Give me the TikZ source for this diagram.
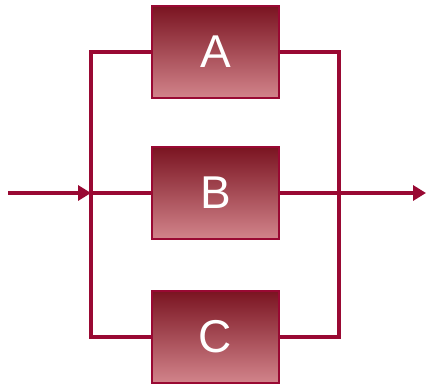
\documentclass[tikz,border=0pt]{standalone}
\usepackage{fontspec}
\setmainfont{Liberation Sans}
\usetikzlibrary{arrows.meta}
\definecolor{wire}{HTML}{990933}
\definecolor{gtop}{HTML}{7A1421}
\definecolor{gbot}{HTML}{D2848B}
\begin{document}
\begin{tikzpicture}[x=1pt,y=-1pt,
  blockbox/.style={draw=wire,line width=2.5pt,top color=gtop,bottom color=gbot,
    minimum width=127pt,minimum height=92pt,inner sep=0pt,outer sep=0pt,
    text=white,font=\fontsize{46}{46}\selectfont},
  wireline/.style={wire,line width=4.5pt},
  arr/.style={wireline,-{Triangle[length=13pt,width=15pt]}}]
\useasboundingbox (0,0) rectangle (426,385);
\node[blockbox] (A) at (215.5,52) {A};
\node[blockbox] (B) at (215.5,193) {B};
\node[blockbox] (C) at (215.5,337) {C};
\coordinate (in) at (8,193);
\coordinate (sp) at (91,193);
\coordinate (jn) at (339,193);
\coordinate (out) at (426,193);
\draw[arr] (in) -- (sp);
\draw[wireline] (A.west) -| (sp) |- (C.west);
\draw[wireline] (sp) -- (B.west);
\draw[wireline] (A.east) -| (jn) |- (C.east);
\draw[arr] (B.east) -- (out);
\end{tikzpicture}
\end{document}
